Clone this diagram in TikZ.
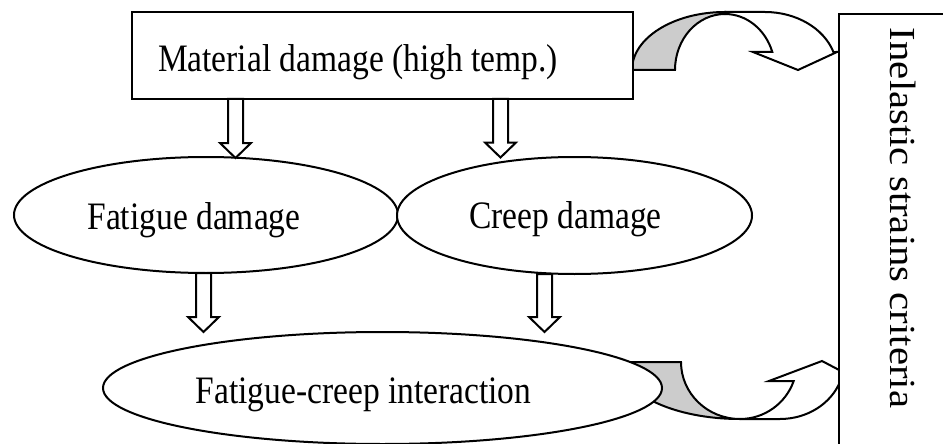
\documentclass[tikz,border=0pt]{standalone}
\usepackage{graphicx}
\usepackage{fontspec}
\setmainfont{Liberation Serif}
\usetikzlibrary{shapes.geometric,calc}
\definecolor{bandgrey}{RGB}{204,204,204}
\newcommand{\htxt}[1]{\fontsize{33.5}{40}\selectfont\scalebox{1}[1.16]{#1}}
\newcommand{\vtxt}[1]{\fontsize{36.7}{40}\selectfont\scalebox{1.11}[1]{#1}}
\tikzset{
  outl/.style={draw=black, line width=2pt, fill=white},
  boxnode/.style={outl, rectangle, inner sep=0pt},
  ellnode/.style={outl, ellipse, inner sep=0pt},
  lbl/.style={inner sep=0pt, outer sep=0pt},
  band/.style={draw=black, line width=2pt, fill=bandgrey, line join=miter},
  headpart/.style={draw=black, line width=2pt, fill=white, line join=miter},
  blockarrow/.style={draw=black, line width=2pt, fill=white, line join=miter,
    to path={let \p1=(\tikztostart), \p2=(\tikztotarget) in
      (\x1-7.5pt,\y1) -- (\x1+7.5pt,\y1) -- (\x1+7.5pt,\y2+15pt) -- (\x2+15.5pt,\y2+15pt)
      -- (\x2,\y2) -- (\x2-15.5pt,\y2+15pt) -- (\x1-7.5pt,\y2+15pt) -- cycle}}
}
\begin{document}
\begin{tikzpicture}[x=1pt,y=-1pt]
\useasboundingbox (0,0) rectangle (943,444);
\clip (0,0) rectangle (943,444);
\fill[white] (0,0) rectangle (943,444);

% curved arrow at the top (behind the boxes)
\path[band] (632,70) arc[start angle=180, end angle=270, x radius=93, y radius=58]
  -- (725,14) arc[start angle=270, end angle=180, x radius=50, y radius=56] -- cycle;
\path[headpart] (725,12) -- (765,12)
  arc[start angle=270, end angle=341.92, x radius=72, y radius=58]
  -- (837,52) -- (798,70) -- (753,52) -- (772.3,52)
  arc[start angle=341.25, end angle=270, x radius=50, y radius=56] -- cycle;

% curved arrow at the bottom (behind the ellipse and the box)
\path[band] (620,362) arc[start angle=180, end angle=90, x radius=120, y radius=57]
  arc[start angle=90, end angle=180, x radius=59, y radius=57] -- cycle;
\path[headpart] (740,419) -- (780,419)
  arc[start angle=90, end angle=19.47, x radius=64, y radius=57]
  -- (860,381) -- (822,361) -- (769,381) -- (793.7,381)
  arc[start angle=19.47, end angle=90, x radius=57, y radius=57] -- cycle;

% nodes
\node[boxnode, minimum width=501pt, minimum height=87pt] (mat) at (382.5,55.5) {};
\node[lbl, anchor=base west] (matl) at (158,71) {\htxt{Material damage (high temp.)}};
\node[ellnode, minimum width=384pt, minimum height=116pt] (fat) at (206,215) {};
\node[ellnode, minimum width=355pt, minimum height=117pt] (crp) at (574.5,215.5) {};
\node[lbl, anchor=base] (fatl) at (194,229) {\htxt{Fatigue damage}};
\node[lbl, anchor=base] (crpl) at (565.5,228.5) {\htxt{Creep damage}};
\node[ellnode, minimum width=559pt, minimum height=112pt] (fci) at (382.5,388) {};
\node[lbl, anchor=base] (fcil) at (363.5,403.3) {\htxt{Fatigue-creep interaction}};
\node[boxnode, anchor=north west, minimum width=200pt, minimum height=500pt] (ine) at (838,13) {};
\node[lbl, anchor=base, rotate=-90] (inel) at (890.7,218) {\vtxt{Inelastic strains criteria}};

% block arrows
\coordinate (a1s) at (235.5,99);   \coordinate (a1e) at (235.5,158);
\coordinate (a2s) at (500.5,99);   \coordinate (a2e) at (500.5,157.5);
\coordinate (a3s) at (203.5,273);  \coordinate (a3e) at (203.5,332);
\coordinate (a4s) at (544.5,274);  \coordinate (a4e) at (544.5,332);
\path[blockarrow] (a1s) to (a1e);
\path[blockarrow] (a2s) to (a2e);
\path[blockarrow] (a3s) to (a3e);
\path[blockarrow] (a4s) to (a4e);
\end{tikzpicture}
\end{document}
